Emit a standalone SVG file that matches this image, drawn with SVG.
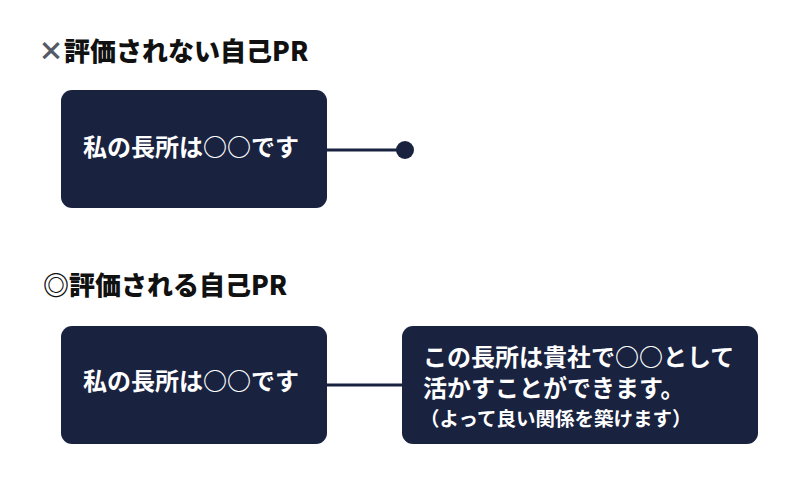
<svg xmlns="http://www.w3.org/2000/svg" width="800" height="481" viewBox="0 0 800 481">
<style>
.box{fill:#19223f}
.t{font-family:"Noto Sans CJK JP","Noto Sans",sans-serif;font-weight:bold;fill:#ffffff}
.h{font-family:"Noto Sans CJK JP","Noto Sans",sans-serif;font-weight:900;fill:#111111;font-size:26px}
.c{stroke:#19223f;stroke-width:3;fill:none}
</style>
<rect width="800" height="481" fill="#ffffff"/>
<g id="title1"><text class="h" x="38" y="61"><tspan fill="#555a66">×</tspan>評価されない自己PR</text></g>
<g id="title2"><text class="h" x="43" y="295">◎評価される自己PR</text></g>
<g id="node1"><rect class="box" x="61" y="90" width="266" height="118" rx="11"/><text class="t" x="191" y="156" font-size="24" text-anchor="middle">私の長所は○○です</text></g>
<g id="node2"><rect class="box" x="61" y="326" width="266" height="118" rx="11"/><text class="t" x="191" y="390" font-size="24" text-anchor="middle">私の長所は○○です</text></g>
<g id="node3"><rect class="box" x="402" y="326" width="356" height="118" rx="11"/>
<text class="t" font-size="24"><tspan x="423" y="366">この長所は貴社で○○として</tspan><tspan x="423" y="397">活かすことができます。</tspan></text>
<text class="t" x="420" y="426" font-size="19.5">（よって良い関係を築けます）</text></g>
<g id="connectors">
<line class="c" x1="327" y1="150" x2="405" y2="150"/>
<circle cx="405" cy="150" r="9" fill="#19223f"/>
<line class="c" x1="327" y1="385" x2="402" y2="385"/>
</g>
</svg>
